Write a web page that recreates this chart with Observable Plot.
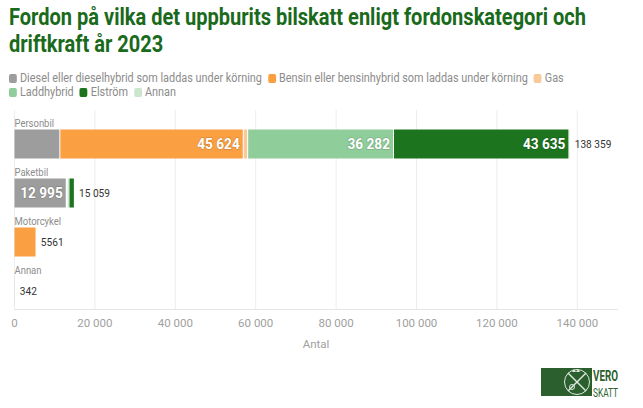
<!DOCTYPE html>
<html>
<head>
<meta charset="utf-8">
<script src="https://cdn.jsdelivr.net/npm/d3@7"></script>
<script src="https://cdn.jsdelivr.net/npm/@observablehq/plot@0.6"></script>
<style>
  html, body { margin: 0; padding: 0; background: #fff; width: 643px; height: 408px; overflow: hidden; }
  body { position: relative; font-family: Roboto, "Liberation Sans", sans-serif; }
  #title { position: absolute; left: 9px; top: 4px; font-size: 23px; line-height: 27px; font-weight: bold; color: #1a6a1c; white-space: nowrap; transform-origin: 0 0; }
  #legend { position: absolute; left: 9px; top: 71px; font-size: 12.5px; line-height: 13.5px; color: #8c8c8c; white-space: nowrap; transform-origin: 0 0; }
  #legend .item { display: inline-block; }
  #legend .sw { display: inline-block; height: 9px; border-radius: 2px; vertical-align: -1px; }
  #chart { position: absolute; left: 0; top: 99px; }
  #logo { position: absolute; left: 541px; top: 366px; }
</style>
</head>
<body>
<div id="title"><span id="t1">Fordon på vilka det uppburits bilskatt enligt fordonskategori och</span><br><span>driftkraft år 2023</span></div>
<div id="legend"></div>
<div id="chart"></div>
<div id="logo"></div>
<script>
// ---- data ----
const categories = ["Personbil", "Paketbil", "Motorcykel", "Annan"];
const seriesNames = [
  "Diesel eller dieselhybrid som laddas under körning",
  "Bensin eller bensinhybrid som laddas under körning",
  "Gas",
  "Laddhybrid",
  "Elström",
  "Annan"
];
// values per series, in category order
const diesel     = [11400, 12995,    0,   0];
const bensin     = [45624,   250, 5480,   0];
const gas        = [ 1100,    30,    0,   0];
const laddhybrid = [36282,   400,    0,   0];
const elstrom    = [43635,  1340,   81,   0];
const annan      = [  318,    44,    0, 342];
const totals     = [138359, 15059, 5561, 342];
const xTicks = [0, 20000, 40000, 60000, 80000, 100000, 120000, 140000];
const seriesColors = ["#9d9d9d", "#fba042", "#f8c99b", "#8fcd9a", "#1d741f", "#cce5cf"];

const seriesValues = [diesel, bensin, gas, laddhybrid, elstrom, annan];
const rows = [];
categories.forEach((c, i) => {
  seriesNames.forEach((s, j) => {
    rows.push({cat: c, series: s, value: seriesValues[j][i], color: seriesColors[j]});
  });
});
const totalRows = categories.map((c, i) => ({cat: c, total: totals[i]}));

const loc = d3.formatLocale({decimal: ",", thousands: " ", grouping: [3], currency: ["", " kr"]});
const grp = loc.format(",d");
const fmt = v => (Math.abs(v) >= 10000 ? grp(v) : String(v));

// ---- title: condense to the reference width ----
const title = document.getElementById("title");
const t1w = document.getElementById("t1").getBoundingClientRect().width;
title.style.transform = `scaleX(${577 / t1w})`;

// ---- legend ----
const legend = document.getElementById("legend");
const items = [];
seriesNames.forEach((s, j) => {
  const it = document.createElement("span");
  it.className = "item";
  const sw = document.createElement("span");
  sw.className = "sw";
  sw.style.background = seriesColors[j];
  const tx = document.createElement("span");
  tx.textContent = s;
  it.appendChild(sw); it.appendChild(tx);
  legend.appendChild(it);
  items.push({it, sw, tx});
  if (j === 2) legend.appendChild(document.createElement("br"));
});
const lw = items[0].tx.getBoundingClientRect().width;
const ls = 242 / lw;
items.forEach(({it, sw}) => {
  sw.style.width = (8 / ls) + "px";
  sw.style.marginRight = (3 / ls) + "px";
  it.style.marginRight = (6 / ls) + "px";
});
legend.style.transform = `scaleX(${ls})`;

// ---- chart ----
const insetTop = 17.5, insetBottom = 2.5;
const barDy = (insetTop - insetBottom) / 2;
const font = "Roboto, Liberation Sans, sans-serif";

const chart = Plot.plot({
  width: 643,
  height: 256,
  marginLeft: 14,
  marginRight: 26,
  marginTop: 11,
  marginBottom: 46,
  style: {fontFamily: font, background: "white", overflow: "visible"},
  x: {domain: [0, 150000], ticks: xTicks, tickFormat: fmt},
  y: {domain: categories, padding: 0, axis: null},
  color: {domain: seriesNames, range: seriesColors},
  marks: [
    Plot.gridX(xTicks, {stroke: "#ededed", strokeOpacity: 1, strokeWidth: 1}),
    Plot.axisX({ticks: xTicks, tickFormat: fmt, tickSize: 0, tickPadding: 9, fontSize: 11.5, color: "#a0a0a0",
      label: "Antal", labelAnchor: "center", labelArrow: "none", labelOffset: 38}),
    Plot.frame({anchor: "bottom", stroke: "#e6e6e6"}),
    Plot.barX(rows, Plot.stackX({
      x: "value", y: "cat", fill: "series", order: seriesNames,
      insetTop, insetBottom, insetLeft: 0.5, insetRight: 0.5
    })),
    Plot.text(rows, Plot.stackX2({
      x: "value", y: "cat", order: seriesNames,
      text: d => (d.value >= 12000 ? fmt(d.value) : ""),
      textAnchor: "end", dx: -4, dy: barDy,
      fill: "white", fontWeight: "bold", fontSize: 15.5,
      stroke: d => d3.color(d.color).darker(0.9).formatHex(), strokeWidth: 1.6, strokeOpacity: 0.5,
      paintOrder: "stroke", className: "cz88"
    })),
    Plot.text(totalRows, {
      x: "total", y: "cat", text: d => fmt(d.total),
      textAnchor: "start", dx: 4, dy: barDy, fill: "#333", fontSize: 11, className: "cz92"
    }),
    Plot.text(categories, {
      x: () => 0, y: d => d, text: d => d,
      textAnchor: "start", dy: -13, fill: "#8c8c8c", fontSize: 10.5, className: "cz90"
    })
  ]
});
document.getElementById("chart").appendChild(chart);

// condense chart texts slightly (reference uses a narrow face)
function condense(sel, f) {
  chart.querySelectorAll(sel).forEach(t => {
    const w = t.getComputedTextLength();
    if (w > 0) { t.setAttribute("textLength", w * f); t.setAttribute("lengthAdjust", "spacingAndGlyphs"); }
  });
}
condense("g.cz88 text", 0.88);
condense("g.cz92 text", 0.92);
condense("g.cz90 text", 0.9);

// ---- logo (decorative) ----
document.getElementById("logo").innerHTML = `
<svg width="100" height="36" viewBox="0 0 100 36">
  <rect x="0" y="2" width="51" height="28" fill="#2b5f2e"/>
  <circle cx="36" cy="16" r="12.5" fill="none" stroke="#dfe9df" stroke-width="1"/>
  <line x1="27" y1="25" x2="45" y2="7" stroke="#dfe9df" stroke-width="1.4"/>
  <line x1="27" y1="7" x2="45" y2="25" stroke="#dfe9df" stroke-width="1.4"/>
  <circle cx="31" cy="21" r="2.5" fill="none" stroke="#dfe9df" stroke-width="1"/>
  <path d="M31 6 l2 -3 l2 3 l2 -3 l2 3 z" fill="#dfe9df"/>
  <text x="52" y="14.5" textLength="25" lengthAdjust="spacingAndGlyphs" font-family="Roboto, sans-serif" font-weight="bold" font-size="15" fill="#2b5f2e">VERO</text>
  <text x="52" y="30.5" textLength="25" lengthAdjust="spacingAndGlyphs" font-family="Roboto, sans-serif" font-size="12" fill="#2b5f2e">SKATT</text>
</svg>`;
</script>
</body>
</html>
